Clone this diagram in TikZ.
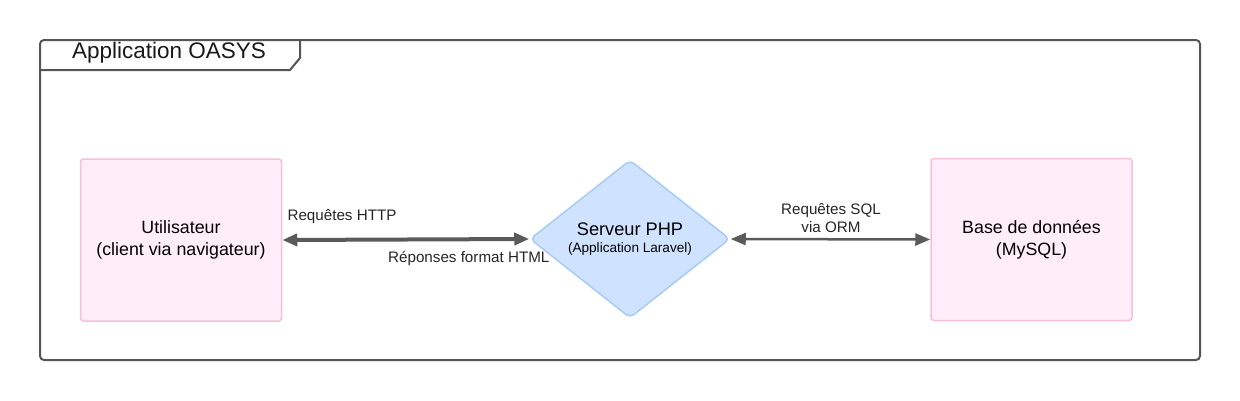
\documentclass[tikz,border=0pt]{standalone}
\usepackage{fontspec}
\setmainfont{Liberation Sans}
\usetikzlibrary{shapes.geometric,arrows.meta}
\definecolor{FrameGray}{HTML}{555555}
\definecolor{ArrowGray}{HTML}{5A5A5A}
\definecolor{BoxFill}{HTML}{FFEEF9}
\definecolor{BoxLine}{HTML}{F6BFDB}
\definecolor{DiaFill}{HTML}{CFE2FF}
\definecolor{DiaLine}{HTML}{A8CBF5}
\tikzset{
    entity/.style={draw=BoxLine, fill=BoxFill, line width=1.5pt, rounded corners=3pt,
        minimum width=201pt, minimum height=162pt, align=center, font=\fontsize{17.8}{22}\selectfont},
    server/.style={diamond, draw=DiaLine, fill=DiaFill, line width=1.5pt, rounded corners=5pt,
        minimum width=200pt, minimum height=158pt, inner sep=0pt, align=center},
    link/.style={draw=ArrowGray, {Triangle[length=15pt,width=12pt]}-{Triangle[length=15pt,width=12pt]}},
    lbl/.style={font=\fontsize{15.2}{18}\selectfont, text=black!85, align=center}
}
\begin{document}
\begin{tikzpicture}[x=1pt,y=-1pt]
\useasboundingbox (0,0) rectangle (1240,400);
% cadre de l'application
\draw[FrameGray, line width=2pt, rounded corners=4pt] (40,40) rectangle (1200,360);
\draw[FrameGray, line width=2pt] (40,70) -- (290,70) -- (300,58) -- (300,40);
\node[font=\fontsize{22.5}{26}\selectfont, text=black!90] (titre) at (169,53) {Application OASYS};
% blocs
\node[entity] (user) at (181,240) {Utilisateur\\(client via navigateur)};
\node[server] (php) at (630,239) {\fontsize{18.2}{18}\selectfont Serveur PHP\\[5pt]
    \fontsize{13.6}{18}\selectfont (Application Laravel)};
\node[entity] (db) at (1031.5,239.5) {Base de données\\(MySQL)};
% connexions
\draw[link, line width=4pt] (user.east) -- (php.west);
\draw[link, line width=2.5pt] (php.east) -- (db.west);
\node[lbl, anchor=west] (http) at (284,217) {Requêtes HTTP};
\node[lbl, anchor=east] (html) at (553,258) {Réponses format HTML};
\node[lbl] (sql) at (831,218) {Requêtes SQL\\via ORM};
\end{tikzpicture}
\end{document}
